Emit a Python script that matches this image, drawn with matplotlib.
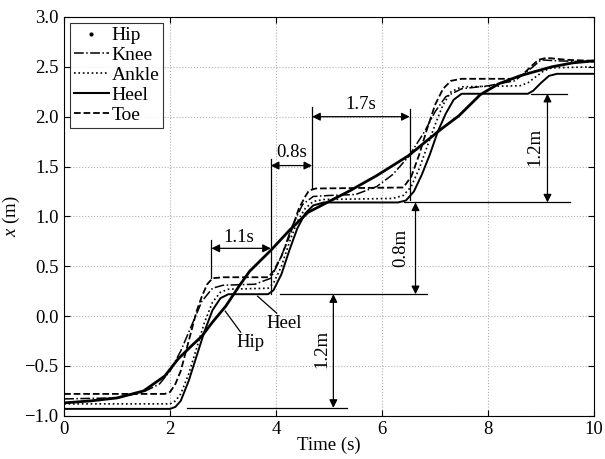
import matplotlib
matplotlib.use('Agg')
import matplotlib.pyplot as plt
from matplotlib.lines import Line2D

plt.rcParams['font.family'] = ['Liberation Serif', 'DejaVu Serif']
plt.rcParams['mathtext.fontset'] = 'custom'
plt.rcParams['mathtext.it'] = 'Liberation Serif:italic'
plt.rcParams['mathtext.rm'] = 'Liberation Serif'

# values
hip_t = [0, 0.5, 1.0, 1.5, 1.9, 2.15, 2.4, 2.6, 2.8, 3.05, 3.3, 3.5, 3.9, 4.25, 4.6,
         5.0, 5.4, 5.9, 6.5, 7.1, 7.45, 7.85, 8.2, 8.6, 9.2, 9.6, 10]
hip_x = [-0.87, -0.85, -0.82, -0.75, -0.60, -0.43, -0.30, -0.20, -0.06, 0.10, 0.30, 0.45,
         0.66, 0.86, 1.04, 1.15, 1.26, 1.41, 1.61, 1.87, 2.01, 2.22, 2.33, 2.41, 2.50, 2.54, 2.56]

knee_t = [0, 1.0, 1.5, 1.8, 2.0, 2.2, 2.4, 2.6, 2.8, 3.0, 3.6, 3.9, 4.1, 4.3, 4.5, 4.7,
          5.0, 5.5, 5.9, 6.2, 6.5, 6.8, 7.0, 7.2, 7.5, 8.0, 8.5, 8.8, 9.0, 9.3, 10]
knee_x = [-0.83, -0.82, -0.76, -0.68, -0.55, -0.35, -0.10, 0.15, 0.28, 0.31, 0.32, 0.38,
          0.60, 0.90, 1.12, 1.20, 1.21, 1.22, 1.30, 1.42, 1.60, 1.85, 2.05, 2.20, 2.28,
          2.31, 2.36, 2.48, 2.57, 2.56, 2.55]

ankle_t = [0, 2.0, 2.1, 2.2, 2.35, 2.5, 2.65, 2.8, 2.95, 3.1, 3.85, 3.95, 4.1, 4.25, 4.4,
           4.55, 4.7, 4.9, 6.2, 6.4, 6.55, 6.7, 6.85, 7.0, 7.15, 7.3, 7.5, 8.6, 8.75, 8.9,
           9.05, 9.2, 10]
ankle_x = [-0.88, -0.88, -0.85, -0.78, -0.58, -0.32, -0.06, 0.14, 0.24, 0.27, 0.28, 0.33,
           0.50, 0.74, 0.95, 1.08, 1.15, 1.17, 1.18, 1.21, 1.30, 1.48, 1.70, 1.92, 2.12,
           2.25, 2.30, 2.31, 2.34, 2.40, 2.46, 2.49, 2.50]

heel_t = [0, 2.0, 2.1, 2.2, 2.35, 2.5, 2.65, 2.8, 2.95, 3.1, 3.85, 3.95, 4.1, 4.25, 4.4,
          4.55, 4.7, 4.9, 6.3, 6.45, 6.6, 6.75, 6.9, 7.05, 7.2, 7.35, 7.5, 8.75, 8.85, 9.0,
          9.15, 9.3, 10]
heel_x = [-0.93, -0.93, -0.91, -0.85, -0.65, -0.40, -0.15, 0.06, 0.18, 0.22, 0.22, 0.26,
          0.42, 0.66, 0.88, 1.03, 1.11, 1.14, 1.14, 1.16, 1.25, 1.42, 1.62, 1.85, 2.03,
          2.17, 2.23, 2.23, 2.26, 2.34, 2.41, 2.43, 2.43]

toe_t = [0, 1.9, 2.0, 2.1, 2.2, 2.35, 2.5, 2.6, 2.7, 2.8, 3.0, 3.85, 3.95, 4.1, 4.25,
         4.43, 4.55, 4.62, 4.75, 6.4, 6.55, 6.7, 6.85, 7.0, 7.15, 7.3, 7.5, 8.5, 8.65,
         8.8, 8.95, 9.1, 9.5, 10]
toe_x = [-0.78, -0.78, -0.76, -0.68, -0.55, -0.25, 0.05, 0.20, 0.32, 0.38, 0.39, 0.39,
         0.45, 0.60, 0.80, 1.08, 1.20, 1.26, 1.28, 1.29, 1.40, 1.62, 1.88, 2.12, 2.28,
         2.36, 2.38, 2.38, 2.42, 2.50, 2.57, 2.59, 2.57, 2.56]

# helper lines: (t0, t1, x0, x1)
guide_lines = [
    (2.78, 2.78, 0.38, 0.76), (3.9, 3.9, 0.22, 1.58), (4.68, 4.68, 1.29, 2.1),
    (6.52, 6.52, 1.16, 2.08), (6.42, 9.55, 1.14, 1.14), (8.8, 9.48, 2.23, 2.23),
    (4.08, 6.85, 0.22, 0.22), (2.31, 5.33, -0.92, -0.92),
    # callout leaders for Heel and Hip
    (4.01, 3.65, 0.03, 0.20), (3.33, 3.04, -0.16, 0.05),
]
# double arrows: (t0, x0, t1, x1)
arrows = [
    (2.78, 0.68, 3.9, 0.68), (3.9, 1.51, 4.68, 1.51), (4.68, 2.0, 6.52, 2.0),
    (6.63, 1.14, 6.63, 0.22), (9.12, 2.23, 9.12, 1.14), (5.08, 0.22, 5.08, -0.92),
]
# labels: (text, t, x, rotation)
labels = [
    ('1.1s', 3.3, 0.79, 0), ('0.8s', 4.3, 1.64, 0), ('1.7s', 5.6, 2.12, 0),
    ('0.8m', 6.36, 0.68, 90), ('1.2m', 8.88, 1.70, 90), ('1.2m', 4.86, -0.33, 90),
    ('Heel', 4.16, -0.07, 0), ('Hip', 3.52, -0.26, 0),
]

fig = plt.figure(figsize=(6.05, 4.59), dpi=100)
ax = fig.add_axes([0.106, 0.094, 0.876, 0.869])

ax.plot(hip_t, hip_x, color='k', lw=2.0)
ax.plot(knee_t, knee_x, color='k', lw=1.1, ls='-.')
ax.plot(ankle_t, ankle_x, color='k', lw=1.2, ls=':')
ax.plot(heel_t, heel_x, color='k', lw=1.4, ls='-')
ax.plot(toe_t, toe_x, color='k', lw=1.3, ls='--')

for t0, t1, x0, x1 in guide_lines:
    ax.plot([t0, t1], [x0, x1], color='k', lw=0.9)
for t0, x0, t1, x1 in arrows:
    ax.annotate('', xy=(t1, x1), xytext=(t0, x0),
                arrowprops=dict(arrowstyle='<|-|>', color='k', lw=0.9,
                                shrinkA=0, shrinkB=0, mutation_scale=12))
for txt, t, x, rot in labels:
    ax.text(t, x, txt, fontsize=13.5, rotation=rot, ha='center', va='center')

ax.set_xlim(0, 10)
ax.set_ylim(-1.0, 3.0)
ax.set_xticks([0, 2, 4, 6, 8, 10])
ax.set_yticks([-1.0, -0.5, 0.0, 0.5, 1.0, 1.5, 2.0, 2.5, 3.0])
ax.set_yticklabels(['\u22121.0', '\u22120.5', '0.0', '0.5', '1.0', '1.5', '2.0', '2.5', '3.0'])
ax.tick_params(direction='in', top=True, right=True, labelsize=13.5, length=4, pad=4)
ax.grid(True, color='#b0b0b0', ls=':', lw=0.8)
ax.set_xlabel('Time (s)', fontsize=13.5, labelpad=-1)
ax.set_ylabel('$x$ (m)', fontsize=13.5, labelpad=2)

handles = [
    Line2D([], [], color='k', marker='.', ls='none', markersize=4),
    Line2D([], [], color='k', ls='-.', lw=1.1),
    Line2D([], [], color='k', ls=':', lw=1.2),
    Line2D([], [], color='k', ls='-', lw=1.5),
    Line2D([], [], color='k', ls='--', lw=1.3),
]
leg = ax.legend(handles, ['Hip', 'Knee', 'Ankle', 'Heel', 'Toe'], loc='upper left',
                fontsize=14, frameon=True, fancybox=False, edgecolor='k',
                borderaxespad=0.3, handlelength=1.8, handletextpad=0.15,
                labelspacing=0.12, borderpad=0.2)
leg.get_frame().set_linewidth(0.8)

fig.savefig('out.png', dpi=100)
